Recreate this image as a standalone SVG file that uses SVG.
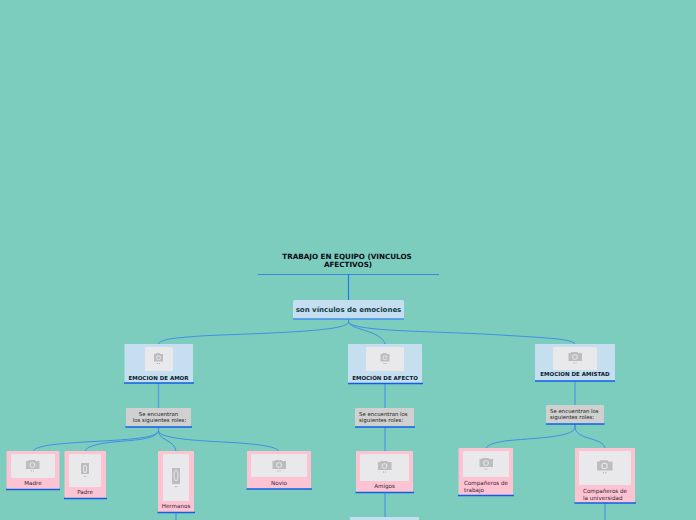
<svg xmlns="http://www.w3.org/2000/svg" width="696" height="520" viewBox="0 0 696 520">
<style>
text{font-family:"DejaVu Sans","Liberation Sans",sans-serif;text-anchor:middle}
.b{fill:#c5dff0}.p{fill:#fcc4d2}.g{fill:#d0d0d0}
.u{stroke:#0f5fe8;stroke-width:1.4;fill:none}
.i{fill:#e9e9ec}
.c{fill:none;stroke:#3f8fe4;stroke-width:1}
.v{fill:none;stroke:#4f9cdc;stroke-width:1.3}
.h{font-weight:700;font-size:5.500px;fill:#0a1a2a}
.t{font-size:5.400px;fill:#222}
.n{font-size:5.600px;fill:#3a2030}
</style>
<defs>
<g id="cam"><path d="M-4.500-4h1.500l1-1h3l1 1h2.500v7.500h-9z" fill="#bdbdc0"/><circle cy="-.2" r="2.400" fill="#e9e9ec"/><circle cy="-.2" r="1.600" fill="#bdbdc0"/><rect x="-1.500" y="5" width="1" height="1" fill="#aaa"/><rect x=".5" y="5" width="1" height="1" fill="#aaa"/></g>
<g id="camw"><path d="M-6.500-4h2l1-1h6l1 1h3.500v8h-13.500z" fill="#bdbdc0"/><circle r="2.800" fill="#e9e9ec"/><circle r="1.900" fill="#bdbdc0"/><rect x="-1.500" y="5.500" width="1" height="1" fill="#aaa"/><rect x=".5" y="5.500" width="1" height="1" fill="#aaa"/></g>
<g id="camt"><rect x="-4" y="-6" width="8" height="11" fill="#bdbdc0"/><ellipse rx="2" ry="4" fill="#e9e9ec"/><ellipse rx="1.200" ry="3" fill="#bdbdc0"/><rect x="-1" y="7" width=".8" height="1" fill="#aaa"/><rect x=".4" y="7" width=".8" height="1" fill="#aaa"/></g>
</defs>
<rect width="696" height="520" fill="#7dcdbe"/>
<g id="connectors">
<path d="M348.500 274V300" fill="none" stroke="#1f78ea" stroke-width="1.200"/>
<path class="c" d="M348.500 319V322C348 332 260 333 200 336C175 338 160 339 158.500 344"/>
<path class="c" d="M348.500 319V322C350 330 381 330 385 344"/>
<path class="c" d="M348.500 319V322C352 332 440 331 500 335C550 338 572 339 575 344"/>
<path class="v" d="M158.500 383V408"/>
<path class="v" d="M385 383V408"/>
<path class="v" d="M575 381V405"/>
<path class="c" d="M158.500 427V431C156 440 110 440 70 443C45 445 36 447 33 451"/>
<path class="c" d="M158.500 427V431C156 441 125 440 105 443C93 445 87 447 85 451"/>
<path class="c" d="M158.500 427V431C160 442 174 439 176 451"/>
<path class="c" d="M158.500 427V431C160 440 210 441 240 443C265 445 275 447 279 451"/>
<path class="v" d="M385 427V451"/>
<path class="c" d="M575 424V428C572 438 530 438 505 441C492 443 488 445 486 448"/>
<path class="c" d="M575 424V428C577 440 602 437 605 448"/>
<path class="v" d="M176 512V520"/>
<path class="v" d="M385 492V517"/>
<path class="v" d="M605 503V520"/>
</g>
<g id="title">
<text x="347" y="259" font-size="7.200" font-weight="700" fill="#0a0a14">TRABAJO EN EQUIPO (VINCULOS</text>
<text x="348" y="267" font-size="7.200" font-weight="700" fill="#0a0a14">AFECTIVOS)</text>
<path d="M258 274.500H439" stroke="#1f78ea" stroke-width=".8"/>
</g>
<g id="root">
<rect class="b" x="293" y="300" width="111" height="19" rx="1.500"/>
<path d="M293 319H404" stroke="#3f8fe8" stroke-width="1.400"/>
<text x="348.500" y="312" font-size="7" font-weight="700" fill="#12404a">son vínculos de emociones</text>
</g>
<g id="amor">
<rect class="b" x="124.500" y="344" width="68.500" height="39" rx="1"/>
<path class="u" d="M124 383H194"/>
<rect class="i" x="145" y="347" width="28" height="24" rx="1"/>
<use href="#cam" x="158.500" y="358"/>
<text class="h" x="158.500" y="379.500">EMOCION DE AMOR</text>
</g>
<g id="afecto">
<rect class="b" x="348" y="344" width="74" height="39" rx="1"/>
<path class="u" d="M348 383.500H423"/>
<rect class="i" x="366" y="347" width="38" height="24" rx="1"/>
<use href="#cam" x="385" y="358"/>
<text class="h" x="385" y="379.500">EMOCIÓN DE AFECTO</text>
</g>
<g id="amistad">
<rect class="b" x="535" y="344" width="80" height="37" rx="1"/>
<path class="u" d="M535 381H615"/>
<rect class="i" x="553" y="347" width="44" height="23" rx="1"/>
<use href="#camw" x="575" y="357"/>
<text class="h" x="575" y="376">EMOCION DE AMISTAD</text>
</g>
<g id="roles1">
<rect class="g" x="126" y="408" width="65" height="19" rx="1"/>
<path class="u" d="M125.500 427H192"/>
<text class="t" x="158.500" y="416">Se encuentran</text>
<text class="t" x="159.500" y="422">los siguientes roles:</text>
</g>
<g id="roles2">
<rect class="g" x="355" y="408" width="59" height="19" rx="1"/>
<path class="u" d="M355 427H415"/>
<text class="t" x="359" y="416" style="text-anchor:start">Se encuentran los</text>
<text class="t" x="359" y="422" style="text-anchor:start">siguientes roles:</text>
</g>
<g id="roles3">
<rect class="g" x="546" y="405" width="58" height="19" rx="1"/>
<path class="u" d="M546 424H604.500"/>
<text class="t" x="550" y="413" style="text-anchor:start">Se encuentran los</text>
<text class="t" x="550" y="419" style="text-anchor:start">siguientes roles:</text>
</g>
<g id="madre">
<rect class="p" x="6.500" y="451" width="53" height="38" rx="1"/>
<path class="u" d="M6 489.500H60"/>
<rect class="i" x="11" y="454" width="44" height="24" rx="1"/>
<use href="#camw" x="32.500" y="465"/>
<text class="n" x="33" y="485">Madre</text>
</g>
<g id="padre">
<rect class="p" x="64.500" y="451" width="41.500" height="47" rx="1"/>
<path class="u" d="M64 498.500H107"/>
<rect class="i" x="69" y="454" width="32" height="33" rx="1"/>
<use href="#camt" x="85" y="469"/>
<text class="n" x="85" y="494">Padre</text>
</g>
<g id="hermanos">
<rect class="p" x="158" y="451" width="36" height="61" rx="1"/>
<path class="u" d="M157.500 512.500H195"/>
<rect class="i" x="163" y="454" width="26" height="47" rx="1"/>
<path d="M172 468h8v16h-8z" fill="#bdbdc0"/><ellipse cx="176" cy="475.500" rx="2.400" ry="5.500" fill="#e9e9ec"/><ellipse cx="176" cy="475.500" rx="1.500" ry="4.500" fill="#bdbdc0"/><rect x="175" y="486" width=".8" height="1.200" fill="#aaa"/><rect x="176.500" y="486" width=".8" height="1.200" fill="#aaa"/>
<text class="n" x="176" y="508">Hermanos</text>
</g>
<g id="novio">
<rect class="p" x="247" y="451" width="64" height="38" rx="1"/>
<path class="u" d="M246.500 489H312"/>
<rect class="i" x="251" y="454" width="56" height="23" rx="1"/>
<use href="#camw" x="279" y="465"/>
<text class="n" x="279" y="485">Novio</text>
</g>
<g id="amigos">
<rect class="p" x="356" y="451" width="57" height="41.500" rx="1"/>
<path class="u" d="M355.500 492.500H414"/>
<rect class="i" x="360" y="454" width="49" height="27" rx="1"/>
<use href="#camw" x="384.500" y="466"/>
<text class="n" x="384.500" y="488">Amigos</text>
</g>
<g id="siguiente">
<rect class="b" x="350" y="517" width="69" height="5" rx="1"/>
</g>
<g id="trabajo">
<rect class="p" x="458.500" y="448" width="54.500" height="47" rx="1"/>
<path class="u" d="M458 495.500H514"/>
<rect class="i" x="463" y="451" width="46" height="26" rx="1"/>
<use href="#camw" x="486" y="463"/>
<text class="n" x="464" y="485" style="text-anchor:start">Compañeros de</text>
<text class="n" x="464" y="491.500" style="text-anchor:start">trabajo</text>
</g>
<g id="universidad">
<rect class="p" x="575" y="448" width="60" height="55" rx="1"/>
<path class="u" d="M574.500 503H636"/>
<rect class="i" x="579" y="451" width="52" height="34" rx="1"/>
<use href="#camw" transform="translate(604.500 466) scale(1.150)"/>
<text class="n" x="583" y="493" style="text-anchor:start">Compañeros de</text>
<text class="n" x="583" y="499.500" style="text-anchor:start">la universidad</text>
</g>
</svg>
